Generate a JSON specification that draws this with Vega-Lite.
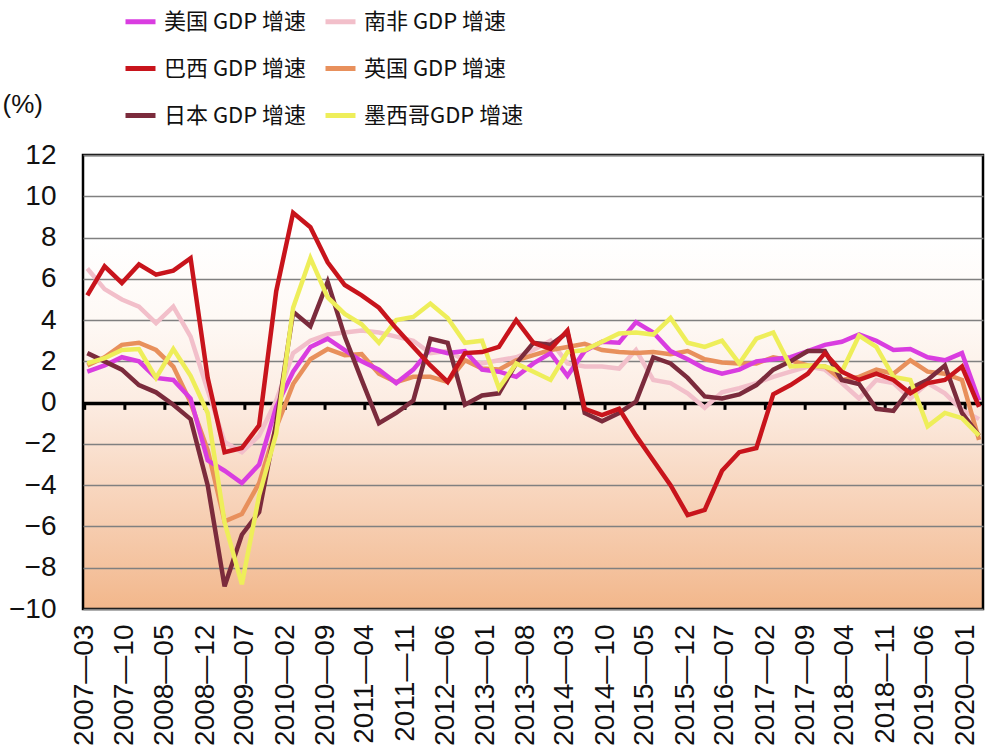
{
  "$schema": "https://vega.github.io/schema/vega-lite/v6.json",
  "width": 900,
  "height": 454,
  "autosize": "none",
  "padding": {"left": 83, "top": 155, "right": 2, "bottom": 136},
  "background": "white",
  "view": {
    "fill": {"gradient": "linear", "x1": 0, "y1": 0, "x2": 0, "y2": 1,
      "stops": [
        {"offset": 0, "color": "#ffffff"},
        {"offset": 0.18, "color": "#ffffff"},
        {"offset": 0.364, "color": "#fef9f5"},
        {"offset": 0.545, "color": "#fcece2"},
        {"offset": 0.727, "color": "#f8d7c0"},
        {"offset": 0.909, "color": "#f4c29e"},
        {"offset": 1, "color": "#f2b78b"}
      ]},
    "stroke": "#000",
    "strokeWidth": 2.5
  },
  "config": {"font": "Liberation Sans"},
  "datasets": {
    "ticks": [
      {"d": "2007-03-01"}, {"d": "2007-10-01"}, {"d": "2008-05-01"}, {"d": "2008-12-01"},
      {"d": "2009-07-01"}, {"d": "2010-02-01"}, {"d": "2010-09-01"}, {"d": "2011-04-01"},
      {"d": "2011-11-01"}, {"d": "2012-06-01"}, {"d": "2013-01-01"}, {"d": "2013-08-01"},
      {"d": "2014-03-01"}, {"d": "2014-10-01"}, {"d": "2015-05-01"}, {"d": "2015-12-01"},
      {"d": "2016-07-01"}, {"d": "2017-02-01"}, {"d": "2017-09-01"}, {"d": "2018-04-01"},
      {"d": "2018-11-01"}, {"d": "2019-06-01"}, {"d": "2020-01-01"}
    ],
    "gdp": [
      {"d": "2007-03-15", "美国 GDP 增速": 1.5, "巴西 GDP 增速": 5.2, "日本 GDP 增速": 2.4, "南非 GDP 增速": 6.5, "英国 GDP 增速": 1.8, "墨西哥GDP 增速": 1.9},
      {"d": "2007-06-15", "美国 GDP 增速": 1.8, "巴西 GDP 增速": 6.6, "日本 GDP 增速": 2.0, "南非 GDP 增速": 5.5, "英国 GDP 增速": 2.2, "墨西哥GDP 增速": 2.15},
      {"d": "2007-09-15", "美国 GDP 增速": 2.2, "巴西 GDP 增速": 5.8, "日本 GDP 增速": 1.6, "南非 GDP 增速": 5.0, "英国 GDP 增速": 2.8, "墨西哥GDP 增速": 2.55},
      {"d": "2007-12-15", "美国 GDP 增速": 2.0, "巴西 GDP 增速": 6.7, "日本 GDP 增速": 0.85, "南非 GDP 增速": 4.65, "英国 GDP 增速": 2.9, "墨西哥GDP 增速": 2.6},
      {"d": "2008-03-15", "美国 GDP 增速": 1.2, "巴西 GDP 增速": 6.2, "日本 GDP 增速": 0.5, "南非 GDP 增速": 3.85, "英国 GDP 增速": 2.55, "墨西哥GDP 增速": 1.2},
      {"d": "2008-06-15", "美国 GDP 增速": 1.1, "巴西 GDP 增速": 6.4, "日本 GDP 增速": -0.1, "南非 GDP 增速": 4.65, "英国 GDP 增速": 1.75, "墨西哥GDP 增速": 2.6},
      {"d": "2008-09-15", "美国 GDP 增速": 0.2, "巴西 GDP 增速": 7.0, "日本 GDP 增速": -0.8, "南非 GDP 增速": 3.2, "英国 GDP 增速": 0.0, "墨西哥GDP 增速": 1.3},
      {"d": "2008-12-15", "美国 GDP 增速": -2.8, "巴西 GDP 增速": 1.2, "日本 GDP 增速": -4.0, "南非 GDP 增速": 0.6, "英国 GDP 增速": -2.3, "墨西哥GDP 增速": -0.5},
      {"d": "2009-03-15", "美国 GDP 增速": -3.3, "巴西 GDP 增速": -2.4, "日本 GDP 增速": -8.9, "南非 GDP 增速": -1.9, "英国 GDP 增速": -5.75, "墨西哥GDP 增速": -5.8},
      {"d": "2009-06-15", "美国 GDP 增速": -3.9, "巴西 GDP 增速": -2.2, "日本 GDP 增速": -6.4, "南非 GDP 增速": -2.4, "英国 GDP 增速": -5.4, "墨西哥GDP 增速": -8.8},
      {"d": "2009-09-15", "美国 GDP 增速": -3.0, "巴西 GDP 增速": -1.1, "日本 GDP 增速": -5.3, "南非 GDP 增速": -1.6, "英国 GDP 增速": -3.9, "墨西哥GDP 增速": -4.5},
      {"d": "2009-12-15", "美国 GDP 增速": -0.2, "巴西 GDP 增速": 5.4, "日本 GDP 增速": -1.0, "南非 GDP 增速": 0.1, "英国 GDP 增速": -1.2, "墨西哥GDP 增速": -1.5},
      {"d": "2010-03-15", "美国 GDP 增速": 1.5, "巴西 GDP 增速": 9.2, "日本 GDP 增速": 4.4, "南非 GDP 增速": 2.4, "英国 GDP 增速": 0.9, "墨西哥GDP 增速": 4.6},
      {"d": "2010-06-15", "美国 GDP 增速": 2.7, "巴西 GDP 增速": 8.5, "日本 GDP 增速": 3.7, "南非 GDP 增速": 3.0, "英国 GDP 增速": 2.1, "墨西哥GDP 增速": 7.0},
      {"d": "2010-09-15", "美国 GDP 增速": 3.1, "巴西 GDP 增速": 6.8, "日本 GDP 增速": 5.85, "南非 GDP 增速": 3.3, "英国 GDP 增速": 2.6, "墨西哥GDP 增速": 5.1},
      {"d": "2010-12-15", "美国 GDP 增速": 2.55, "巴西 GDP 增速": 5.7, "日本 GDP 增速": 3.2, "南非 GDP 增速": 3.4, "英国 GDP 增速": 2.3, "墨西哥GDP 增速": 4.3},
      {"d": "2011-03-15", "美国 GDP 增速": 2.0, "巴西 GDP 增速": 5.2, "日本 GDP 增速": 1.1, "南非 GDP 增速": 3.5, "英国 GDP 增速": 2.35, "墨西哥GDP 增速": 3.8},
      {"d": "2011-06-15", "美国 GDP 增速": 1.6, "巴西 GDP 增速": 4.6, "日本 GDP 增速": -1.0, "南非 GDP 增速": 3.4, "英国 GDP 增速": 1.4, "墨西哥GDP 增速": 2.9},
      {"d": "2011-09-15", "美国 GDP 增速": 0.95, "巴西 GDP 增速": 3.6, "日本 GDP 增速": -0.5, "南非 GDP 增速": 3.2, "英国 GDP 增速": 1.0, "墨西哥GDP 增速": 4.0},
      {"d": "2011-12-15", "美国 GDP 增速": 1.6, "巴西 GDP 增速": 2.7, "日本 GDP 增速": 0.1, "南非 GDP 增速": 3.0, "英国 GDP 增速": 1.25, "墨西哥GDP 增速": 4.15},
      {"d": "2012-03-15", "美国 GDP 增速": 2.6, "巴西 GDP 增速": 1.8, "日本 GDP 增速": 3.1, "南非 GDP 增速": 2.4, "英国 GDP 增速": 1.25, "墨西哥GDP 增速": 4.8},
      {"d": "2012-06-15", "美国 GDP 增速": 2.4, "巴西 GDP 增速": 1.0, "日本 GDP 增速": 2.9, "南非 GDP 增速": 2.5, "英国 GDP 增速": 1.0, "墨西哥GDP 增速": 4.1},
      {"d": "2012-09-15", "美国 GDP 增速": 2.5, "巴西 GDP 增速": 2.4, "日本 GDP 增速": -0.1, "南非 GDP 增速": 2.05, "英国 GDP 增速": 2.05, "墨西哥GDP 增速": 2.9},
      {"d": "2012-12-15", "美国 GDP 增速": 1.6, "巴西 GDP 增速": 2.45, "日本 GDP 增速": 0.35, "南非 GDP 增速": 1.9, "英国 GDP 增速": 1.65, "墨西哥GDP 增速": 3.0},
      {"d": "2013-03-15", "美国 GDP 增速": 1.5, "巴西 GDP 增速": 2.7, "日本 GDP 增速": 0.45, "南非 GDP 增速": 2.05, "英国 GDP 增速": 1.6, "墨西哥GDP 增速": 0.7},
      {"d": "2013-06-15", "美国 GDP 增速": 1.25, "巴西 GDP 增速": 4.0, "日本 GDP 增速": 1.9, "南非 GDP 增速": 2.2, "英国 GDP 增速": 2.05, "墨西哥GDP 增速": 1.9},
      {"d": "2013-09-15", "美国 GDP 增速": 1.9, "巴西 GDP 增速": 2.9, "日本 GDP 增速": 2.9, "南非 GDP 增速": 2.55, "英国 GDP 增速": 2.3, "墨西哥GDP 增速": 1.5},
      {"d": "2013-12-15", "美国 GDP 增速": 2.4, "巴西 GDP 增速": 2.6, "日本 GDP 增速": 2.8, "南非 GDP 增速": 3.0, "英国 GDP 增速": 2.55, "墨西哥GDP 增速": 1.1},
      {"d": "2014-03-15", "美国 GDP 增速": 1.3, "巴西 GDP 增速": 3.5, "日本 GDP 增速": 3.4, "南非 GDP 增速": 1.9, "英国 GDP 增速": 2.7, "墨西哥GDP 增速": 2.45},
      {"d": "2014-06-15", "美国 GDP 增速": 2.5, "巴西 GDP 增速": -0.3, "日本 GDP 增速": -0.5, "南非 GDP 增速": 1.75, "英国 GDP 增速": 2.85, "墨西哥GDP 增速": 2.55},
      {"d": "2014-09-15", "美国 GDP 增速": 2.95, "巴西 GDP 增速": -0.6, "日本 GDP 增速": -0.9, "南非 GDP 增速": 1.75, "英国 GDP 增速": 2.55, "墨西哥GDP 增速": 2.95},
      {"d": "2014-12-15", "美国 GDP 增速": 2.9, "巴西 GDP 增速": -0.3, "日本 GDP 增速": -0.5, "南非 GDP 增速": 1.65, "英国 GDP 增速": 2.45, "墨西哥GDP 增速": 3.35},
      {"d": "2015-03-15", "美国 GDP 增速": 3.9, "巴西 GDP 增速": -1.6, "日本 GDP 增速": 0.05, "南非 GDP 增速": 2.55, "英国 GDP 增速": 2.4, "墨西哥GDP 增速": 3.4},
      {"d": "2015-06-15", "美国 GDP 增速": 3.4, "巴西 GDP 增速": -2.8, "日本 GDP 增速": 2.2, "南非 GDP 增速": 1.1, "英国 GDP 增速": 2.45, "墨西哥GDP 增速": 3.3},
      {"d": "2015-09-15", "美国 GDP 增速": 2.5, "巴西 GDP 增速": -4.0, "日本 GDP 增速": 1.9, "南非 GDP 增速": 0.95, "英国 GDP 增速": 2.35, "墨西哥GDP 增速": 4.1},
      {"d": "2015-12-15", "美国 GDP 增速": 2.1, "巴西 GDP 增速": -5.45, "日本 GDP 增速": 1.2, "南非 GDP 增速": 0.45, "英国 GDP 增速": 2.5, "墨西哥GDP 增速": 2.9},
      {"d": "2016-03-15", "美国 GDP 增速": 1.65, "巴西 GDP 增速": -5.2, "日本 GDP 增速": 0.3, "南非 GDP 增速": -0.25, "英国 GDP 增速": 2.1, "墨西哥GDP 增速": 2.7},
      {"d": "2016-06-15", "美国 GDP 增速": 1.4, "巴西 GDP 增速": -3.3, "日本 GDP 增速": 0.2, "南非 GDP 增速": 0.5, "英国 GDP 增速": 1.95, "墨西哥GDP 增速": 3.0},
      {"d": "2016-09-15", "美国 GDP 增速": 1.6, "巴西 GDP 增速": -2.4, "日本 GDP 增速": 0.4, "南非 GDP 增速": 0.7, "英国 GDP 增速": 1.9, "墨西哥GDP 增速": 1.9},
      {"d": "2016-12-15", "美国 GDP 增速": 2.0, "巴西 GDP 增速": -2.2, "日本 GDP 增速": 0.85, "南非 GDP 增速": 0.95, "英国 GDP 增速": 1.9, "墨西哥GDP 增速": 3.1},
      {"d": "2017-03-15", "美国 GDP 增速": 2.1, "巴西 GDP 增速": 0.4, "日本 GDP 增速": 1.6, "南非 GDP 增速": 1.25, "英国 GDP 增速": 2.2, "墨西哥GDP 增速": 3.4},
      {"d": "2017-06-15", "美国 GDP 增速": 2.2, "巴西 GDP 增速": 0.85, "日本 GDP 增速": 2.0, "南非 GDP 增速": 1.5, "英国 GDP 增速": 2.05, "墨西哥GDP 增速": 1.75},
      {"d": "2017-09-15", "美国 GDP 增速": 2.5, "巴西 GDP 增速": 1.4, "日本 GDP 增速": 2.5, "南非 GDP 增速": 1.75, "英国 GDP 增速": 1.8, "墨西哥GDP 增速": 1.8},
      {"d": "2017-12-15", "美国 GDP 增速": 2.8, "巴西 GDP 增速": 2.4, "日本 GDP 增速": 2.5, "南非 GDP 增速": 1.6, "英国 GDP 增速": 1.75, "墨西哥GDP 增速": 1.75},
      {"d": "2018-03-15", "美国 GDP 增速": 2.95, "巴西 GDP 增速": 1.5, "日本 GDP 增速": 1.1, "南非 GDP 增速": 0.95, "英国 GDP 增速": 1.1, "墨西哥GDP 增速": 1.5},
      {"d": "2018-06-15", "美国 GDP 增速": 3.3, "巴西 GDP 增速": 1.1, "日本 GDP 增速": 0.9, "南非 GDP 增速": 0.2, "英国 GDP 增速": 1.25, "墨西哥GDP 增速": 3.25},
      {"d": "2018-09-15", "美国 GDP 增速": 3.0, "巴西 GDP 增速": 1.4, "日本 GDP 增速": -0.3, "南非 GDP 增速": 1.1, "英国 GDP 增速": 1.6, "墨西哥GDP 增速": 2.7},
      {"d": "2018-12-15", "美国 GDP 增速": 2.55, "巴西 GDP 增速": 1.1, "日本 GDP 增速": -0.4, "南非 GDP 增速": 0.95, "英国 GDP 增速": 1.4, "墨西哥GDP 增速": 1.25},
      {"d": "2019-03-15", "美国 GDP 增速": 2.6, "巴西 GDP 增速": 0.45, "日本 GDP 增速": 0.7, "南非 GDP 增速": 0.2, "英国 GDP 增速": 2.05, "墨西哥GDP 增速": 1.1},
      {"d": "2019-06-15", "美国 GDP 增速": 2.2, "巴西 GDP 增速": 0.95, "日本 GDP 增速": 1.1, "南非 GDP 增速": 0.95, "英国 GDP 增速": 1.5, "墨西哥GDP 增速": -1.15},
      {"d": "2019-09-15", "美国 GDP 增速": 2.05, "巴西 GDP 增速": 1.1, "日本 GDP 增速": 1.8, "南非 GDP 增速": 0.45, "英国 GDP 增速": 1.4, "墨西哥GDP 增速": -0.5},
      {"d": "2019-12-15", "美国 GDP 增速": 2.4, "巴西 GDP 增速": 1.75, "日本 GDP 增速": -0.5, "南非 GDP 增速": -0.35, "英国 GDP 增速": 1.1, "墨西哥GDP 增速": -0.75},
      {"d": "2020-03-15", "美国 GDP 增速": 0.1, "巴西 GDP 增速": -0.2, "日本 GDP 增速": -1.6, "南非 GDP 增速": -0.8, "英国 GDP 增速": -1.8, "墨西哥GDP 增速": -1.6}
    ]
  },
  "encoding": {
    "x": {
      "field": "d",
      "type": "temporal",
      "scale": {"type": "utc", "domain": [{"year": 2007, "month": 2, "date": 20, "utc": true}, {"year": 2020, "month": 4, "date": 5, "utc": true}]},
      "axis": {
        "values": [
          {"year": 2007, "month": 3, "date": 1, "utc": true}, {"year": 2007, "month": 10, "date": 1, "utc": true},
          {"year": 2008, "month": 5, "date": 1, "utc": true}, {"year": 2008, "month": 12, "date": 1, "utc": true},
          {"year": 2009, "month": 7, "date": 1, "utc": true}, {"year": 2010, "month": 2, "date": 1, "utc": true},
          {"year": 2010, "month": 9, "date": 1, "utc": true}, {"year": 2011, "month": 4, "date": 1, "utc": true},
          {"year": 2011, "month": 11, "date": 1, "utc": true}, {"year": 2012, "month": 6, "date": 1, "utc": true},
          {"year": 2013, "month": 1, "date": 1, "utc": true}, {"year": 2013, "month": 8, "date": 1, "utc": true},
          {"year": 2014, "month": 3, "date": 1, "utc": true}, {"year": 2014, "month": 10, "date": 1, "utc": true},
          {"year": 2015, "month": 5, "date": 1, "utc": true}, {"year": 2015, "month": 12, "date": 1, "utc": true},
          {"year": 2016, "month": 7, "date": 1, "utc": true}, {"year": 2017, "month": 2, "date": 1, "utc": true},
          {"year": 2017, "month": 9, "date": 1, "utc": true}, {"year": 2018, "month": 4, "date": 1, "utc": true},
          {"year": 2018, "month": 11, "date": 1, "utc": true}, {"year": 2019, "month": 6, "date": 1, "utc": true},
          {"year": 2020, "month": 1, "date": 1, "utc": true}
        ],
        "labelExpr": "utcFormat(datum.value, '%Y—%m')",
        "labelAngle": -90,
        "labelFontSize": 28,
        "labelPadding": 15,
        "labelColor": "#111",
        "labelOverlap": false,
        "labelBound": false,
        "labelFlush": false,
        "ticks": false,
        "domain": false,
        "grid": false,
        "title": null
      }
    }
  },
  "layer": [
    {
      "data": {"name": "ticks"},
      "mark": {"type": "rule", "color": "#000", "strokeWidth": 3},
      "encoding": {
        "y": {"datum": 0, "type": "quantitative", "scale": {"domain": [-10, 12]}},
        "y2": {"datum": -0.35}
      }
    },
    {
      "data": {"name": "gdp"},
      "transform": [
        {"fold": ["南非 GDP 增速", "英国 GDP 增速", "美国 GDP 增速", "日本 GDP 增速", "墨西哥GDP 增速", "巴西 GDP 增速"], "as": ["s", "v"]}
      ],
      "mark": {"type": "line", "strokeWidth": 4.5, "strokeJoin": "miter"},
      "encoding": {
        "y": {
          "field": "v",
          "type": "quantitative",
          "scale": {"domain": [-10, 12]},
          "axis": {
            "values": [-10, -8, -6, -4, -2, 0, 2, 4, 6, 8, 10, 12],
            "grid": true,
            "gridColor": {"condition": {"test": "datum.value === 0", "value": "#000000"}, "value": "#808080"},
            "gridWidth": {"condition": {"test": "datum.value === 0", "value": 3.5}, "value": 1.3},
            "domain": false,
            "ticks": false,
            "labelFontSize": 28,
            "labelPadding": 27,
            "labelColor": "#111",
            "title": "(%)",
            "titleAngle": 0,
            "titleAlign": "left",
            "titleBaseline": "middle",
            "titleX": -81,
            "titleY": -51,
            "titleFontSize": 26,
            "titleFontWeight": "normal",
            "titleColor": "#111"
          }
        },
        "color": {
          "field": "s",
          "type": "nominal",
          "scale": {
            "domain": ["美国 GDP 增速", "巴西 GDP 增速", "日本 GDP 增速", "南非 GDP 增速", "英国 GDP 增速", "墨西哥GDP 增速"],
            "range": ["#d93de0", "#c8141c", "#7b2b3c", "#f2bfca", "#e8905c", "#eeee5a"]
          },
          "legend": {
            "title": null,
            "orient": "none",
            "legendX": 40,
            "legendY": -151,
            "columns": 2,
            "columnPadding": 8,
            "rowPadding": 18,
            "padding": 0,
            "labelFont": "Noto Sans CJK SC",
            "labelFontSize": 22,
            "labelColor": "#111",
            "labelOffset": 6,
            "labelLimit": 300,
            "symbolType": "stroke",
            "symbolStrokeWidth": 5,
            "symbolSize": 900
          }
        }
      }
    }
  ]
}
